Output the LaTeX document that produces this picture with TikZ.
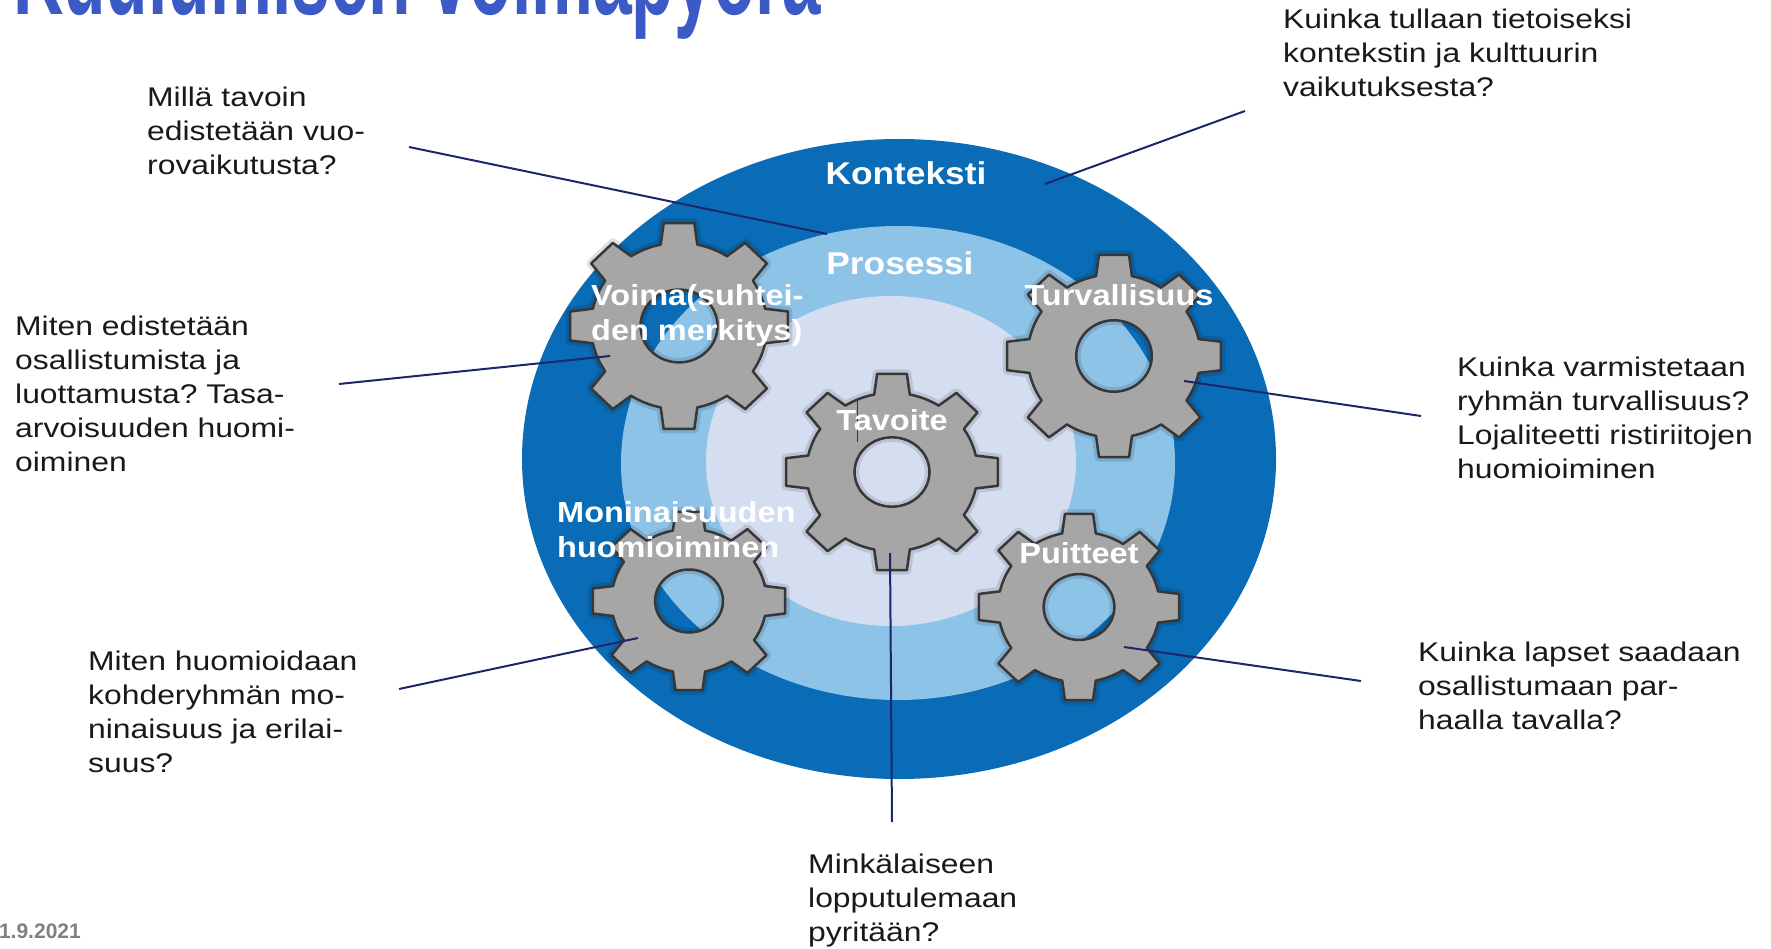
\documentclass[tikz,border=0pt]{standalone}
\usepackage{fontspec}
\setmainfont{Liberation Sans}[FakeStretch=1.18]
\newfontfamily\titlefont{Liberation Sans}[FakeStretch=0.58]
\newfontfamily\ringfont{Liberation Sans}[FakeStretch=1.12]
\newfontfamily\datefont{Liberation Sans}
\usetikzlibrary{positioning}
\frenchspacing

\definecolor{ctxblue}{RGB}{10,108,182}
\definecolor{procblue}{RGB}{142,195,232}
\definecolor{goalblue}{RGB}{213,221,241}
\definecolor{gearfill}{RGB}{166,166,166}
\definecolor{gearline}{RGB}{55,55,55}
\definecolor{leader}{RGB}{28,38,105}
\definecolor{titleblue}{RGB}{59,90,197}
\definecolor{dategray}{RGB}{128,128,128}

\tikzset{
    gearbody/.style={fill=gearfill, draw=gearline, line width=2.5pt, even odd rule, line join=round,
        preaction={draw=black, opacity=0.12, line width=9pt, line join=round}},
    pics/gear/.style={code={
        \draw[gearbody] (-12:0.8)
            \foreach \a in {0,45,...,315} {
                -- (\a-12:0.8) -- (\a-8:1) -- (\a+8:1) -- (\a+12:0.8)
                arc[start angle=\a+12, end angle=\a+33, radius=0.8]
            } -- cycle
            (0,0) circle[radius=0.35];
    }},
    question/.style={font=\fontsize{27}{34}\selectfont, align=left, anchor=north west,
        inner sep=0pt, text=black!90},
    ringlabel/.style={font=\ringfont\bfseries\fontsize{31.5}{36}\selectfont, text=white, inner sep=0pt},
    gearlabel/.style={font=\ringfont\bfseries\fontsize{29}{35.5}\selectfont, text=white,
        inner sep=0pt, align=left},
    leaderline/.style={draw=leader, line width=2pt},
}

\begin{document}
\begin{tikzpicture}[x=1pt, y=-1pt]
    \useasboundingbox (0,0) rectangle (1771,949);
    \clip (0,0) rectangle (1771,949);

    % title and date
    \node[anchor=base west, inner sep=0pt, text=titleblue,
        font=\titlefont\bfseries\fontsize{120}{120}\selectfont] (title) at (13,15) {Kuulumisen voimapyörä};
    \node[anchor=base east, inner sep=0pt, text=dategray,
        font=\datefont\bfseries\fontsize{21}{25}\selectfont] (date) at (81,938) {21.9.2021};

    % rings
    \fill[ctxblue] (899,459) ellipse[x radius=377, y radius=320];
    \fill[procblue] (898,463) ellipse[x radius=277, y radius=237];
    \fill[goalblue] (891,461) ellipse[x radius=185, y radius=165];

    % gears
    \pic[xscale=110, yscale=104] at (679,326) {gear};
    \pic[xscale=108, yscale=102] at (1114,356) {gear};
    \pic[xscale=107, yscale=99] at (892,472) {gear};
    \pic[xscale=97, yscale=90] at (689,601) {gear};
    \pic[xscale=101, yscale=94] at (1079,607) {gear};
    \draw[gearline, line width=1pt] (857,400) -- (857,442);

    % questions
    \node[question] (qvuoro) at (147,87) {Millä tavoin\\edistetään vuo-\\rovaikutusta?};
    \node[question] (qvoima) at (15,316) {Miten edistetään\\osallistumista ja\\luottamusta? Tasa-\\arvoisuuden huomi-\\oiminen};
    \node[question] (qmoni) at (88,651) {Miten huomioidaan\\kohderyhmän mo-\\ninaisuus ja erilai-\\suus?};
    \node[question] (qtavoite) at (808,854) {Minkälaiseen\\lopputulemaan\\pyritään?};
    \node[question] (qpuitteet) at (1418,642) {Kuinka lapset saadaan\\osallistumaan par-\\haalla tavalla?};
    \node[question] (qturva) at (1457,357) {Kuinka varmistetaan\\ryhmän turvallisuus?\\Lojaliteetti ristiriitojen\\huomioiminen};
    \node[question] (qkonteksti) at (1283,9) {Kuinka tullaan tietoiseksi\\kontekstin ja kulttuurin\\vaikutuksesta?};

    % leader ends
    \coordinate (vuoro-out) at (409,147);
    \coordinate (vuoro-in) at (827,234);
    \coordinate (voima-out) at (339,384);
    \coordinate (voima-in) at (610,356);
    \coordinate (moni-out) at (399,689);
    \coordinate (moni-in) at (638,638);
    \coordinate (tavoite-in) at (890,553);
    \coordinate (tavoite-out) at (892,822);
    \coordinate (puitteet-in) at (1124,647);
    \coordinate (puitteet-out) at (1361,681);
    \coordinate (turva-in) at (1184,381);
    \coordinate (turva-out) at (1421,416);
    \coordinate (konteksti-in) at (1045,184);
    \coordinate (konteksti-out) at (1245,111);

    \draw[leaderline] (vuoro-out) -- (vuoro-in);
    \draw[leaderline] (voima-out) -- (voima-in);
    \draw[leaderline] (moni-out) -- (moni-in);
    \draw[leaderline] (tavoite-in) -- (tavoite-out);
    \draw[leaderline] (puitteet-in) -- (puitteet-out);
    \draw[leaderline] (turva-in) -- (turva-out);
    \draw[leaderline] (konteksti-in) -- (konteksti-out);

    % labels in the wheel
    \node[ringlabel] (konteksti) at (906,173) {Konteksti};
    \node[ringlabel] (prosessi) at (900,263) {Prosessi};
    \node[gearlabel] (turva) at (1119,295) {Turvallisuus};
    \node[gearlabel] (tavoite) at (892,420) {Tavoite};
    \node[gearlabel] (puitteet) at (1079,553) {Puitteet};
    \node[gearlabel, anchor=north west] (voima) at (591,284) {Voima(suhtei-\\den merkitys)};
    \node[gearlabel, anchor=north west] (moni) at (557,501) {Moninaisuuden\\huomioiminen};
\end{tikzpicture}
\end{document}
